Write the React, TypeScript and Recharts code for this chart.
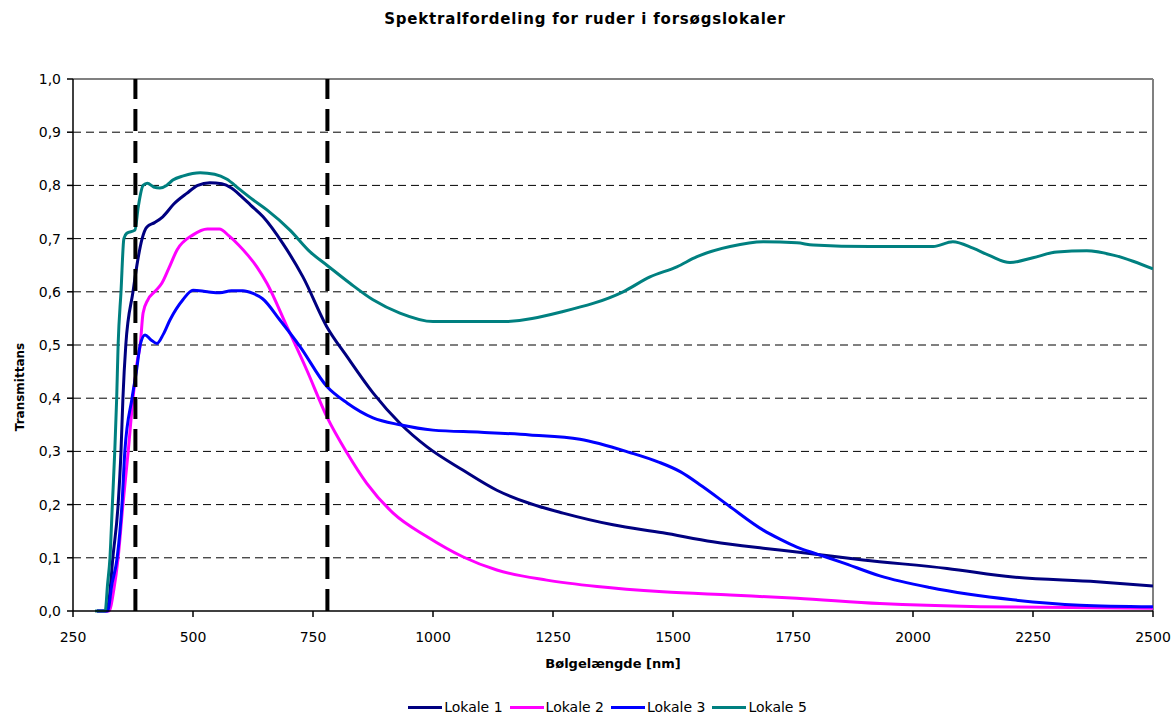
import { LineChart, Line, XAxis, YAxis, CartesianGrid, ReferenceLine, Legend, Label } from 'recharts'

const xTicks = [250, 500, 750, 1000, 1250, 1500, 1750, 2000, 2250, 2500]
const yTicks = [0, 0.1, 0.2, 0.3, 0.4, 0.5, 0.6, 0.7, 0.8, 0.9, 1.0]
const markerLines = [380, 780]

// [wavelength nm, transmittans]
const lokale1: [number, number][] = [
  [300, 0], [320, 0], [325, 0.02], [333, 0.1], [344, 0.2], [350, 0.3], [354, 0.4], [360, 0.5],
  [375, 0.6], [385, 0.66], [394, 0.7], [404, 0.722], [420, 0.73], [437, 0.741], [460, 0.765],
  [487, 0.785], [510, 0.8], [535, 0.805], [560, 0.803], [580, 0.795], [600, 0.78], [620, 0.763],
  [646, 0.741], [687, 0.691], [729, 0.628], [779, 0.534], [821, 0.478], [875, 0.41], [931, 0.353],
  [987, 0.309], [1062, 0.265], [1133, 0.227], [1202, 0.202], [1271, 0.184], [1375, 0.162],
  [1479, 0.147], [1583, 0.13], [1688, 0.118], [1758, 0.111], [1896, 0.096], [2071, 0.08],
  [2208, 0.064], [2383, 0.055], [2500, 0.047],
]

const lokale2: [number, number][] = [
  [300, 0], [325, 0], [335, 0.04], [344, 0.1], [354, 0.2], [365, 0.3], [375, 0.4], [384, 0.47],
  [390, 0.5], [396, 0.56], [406, 0.585], [420, 0.6], [435, 0.616], [450, 0.645], [467, 0.679],
  [500, 0.707], [530, 0.718], [555, 0.718], [575, 0.705], [595, 0.688], [615, 0.668], [633, 0.647],
  [654, 0.616], [696, 0.534], [737, 0.453], [779, 0.365], [821, 0.297], [862, 0.24], [917, 0.184],
  [987, 0.14], [1062, 0.102], [1133, 0.077], [1237, 0.058], [1342, 0.046], [1479, 0.036],
  [1619, 0.03], [1758, 0.024], [1931, 0.014], [2140, 0.008], [2500, 0.005],
]

const lokale3: [number, number][] = [
  [300, 0], [322, 0], [331, 0.05], [342, 0.1], [352, 0.2], [358, 0.3], [373, 0.4], [382, 0.45],
  [390, 0.5], [400, 0.519], [412, 0.51], [425, 0.503], [438, 0.52], [452, 0.547], [479, 0.585],
  [500, 0.603], [530, 0.6], [556, 0.598], [580, 0.602], [604, 0.602], [625, 0.597], [645, 0.587],
  [681, 0.547], [723, 0.497], [779, 0.422], [821, 0.391], [875, 0.363], [931, 0.35], [1000, 0.34],
  [1100, 0.336], [1202, 0.331], [1306, 0.323], [1410, 0.298], [1470, 0.28], [1515, 0.262],
  [1560, 0.235], [1619, 0.196], [1688, 0.152], [1723, 0.135], [1758, 0.12], [1800, 0.107],
  [1850, 0.092], [1931, 0.066], [2035, 0.044], [2208, 0.021], [2348, 0.011], [2500, 0.008],
]

const lokale5: [number, number][] = [
  [296, 0], [317, 0], [322, 0.05], [327, 0.1], [332, 0.2], [337, 0.3], [341, 0.4], [344, 0.5],
  [350, 0.6], [356, 0.7], [362, 0.71], [379, 0.716], [386, 0.76], [396, 0.8], [405, 0.804],
  [418, 0.797], [431, 0.795], [445, 0.8], [458, 0.81], [480, 0.818], [515, 0.824], [545, 0.821],
  [570, 0.812], [598, 0.792], [625, 0.773], [654, 0.754], [702, 0.716], [744, 0.675], [779, 0.65],
  [827, 0.616], [875, 0.585], [931, 0.56], [1000, 0.544], [1146, 0.544], [1271, 0.563],
  [1396, 0.6], [1452, 0.628], [1508, 0.647], [1550, 0.666], [1619, 0.685], [1688, 0.694],
  [1758, 0.692], [1792, 0.688], [1910, 0.685], [2042, 0.685], [2083, 0.694], [2125, 0.682],
  [2160, 0.668], [2202, 0.655], [2250, 0.664], [2300, 0.675], [2362, 0.677], [2417, 0.669],
  [2460, 0.657], [2500, 0.643],
]

const series = [
  { name: 'Lokale 1', color: '#000080', points: lokale1 },
  { name: 'Lokale 2', color: '#ff00ff', points: lokale2 },
  { name: 'Lokale 3', color: '#0000ff', points: lokale3 },
  { name: 'Lokale 5', color: '#008080', points: lokale5 },
]

const FONT = '"DejaVu Sans", "Liberation Sans", sans-serif'

const fmt = (v: number) => v.toFixed(1).replace('.', ',')

function renderLegend() {
  return (
    <div style={{ display: 'flex', justifyContent: 'center', paddingLeft: 46, fontFamily: FONT, fontSize: 14, color: '#000' }}>
      {series.map((s) => (
        <div key={s.name} style={{ display: 'flex', alignItems: 'center', marginRight: 7 }}>
          <span style={{ display: 'inline-block', width: 34, height: 3, background: s.color, marginRight: 2 }} />
          <span>{s.name}</span>
        </div>
      ))}
    </div>
  )
}

export default function App() {
  return (
    <div style={{ position: 'absolute', left: 0, top: 0, width: 1176, height: 716, background: '#fff' }}>
      <div
        style={{
          position: 'absolute', top: 10, left: 0, width: 1170, textAlign: 'center',
          fontFamily: FONT, fontWeight: 'bold', fontSize: 15, letterSpacing: 0.8, color: '#000',
        }}
      >
        Spektralfordeling for ruder i forsøgslokaler
      </div>
      <LineChart width={1176} height={716} margin={{ top: 79, right: 23, bottom: 0, left: 0 }}>
        <CartesianGrid
          vertical={false}
          horizontalValues={yTicks.slice(1, -1)}
          stroke="#000"
          strokeDasharray="8 5"
        />
        <XAxis
          type="number"
          dataKey="nm"
          domain={[250, 2500]}
          ticks={xTicks}
          allowDataOverflow
          height={105}
          tickSize={6}
          tickMargin={15}
          stroke="#000"
          strokeWidth={1.5}
          tick={{ fontSize: 14, fill: '#000', fontFamily: FONT }}
        >
          <Label
            content={({ viewBox }: any) => (
              <text
                x={viewBox.x + viewBox.width / 2}
                y={viewBox.y + 57}
                textAnchor="middle"
                fontFamily={FONT}
                fontWeight="bold"
                fontSize={13}
                fill="#000"
              >
                Bølgelængde [nm]
              </text>
            )}
          />
        </XAxis>
        <YAxis
          type="number"
          domain={[0, 1]}
          ticks={yTicks}
          width={73}
          tickSize={6}
          tickMargin={6}
          tickFormatter={fmt}
          stroke="#000"
          strokeWidth={1.5}
          tick={{ fontSize: 14, fill: '#000', fontFamily: FONT }}
        >
          <Label
            content={({ viewBox }: any) => {
              const cx = viewBox.x + 20
              const cy = viewBox.y + 308
              return (
                <text
                  x={cx}
                  y={cy}
                  transform={`rotate(-90, ${cx}, ${cy})`}
                  textAnchor="middle"
                  dominantBaseline="central"
                  fontFamily={FONT}
                  fontWeight="bold"
                  fontSize={12}
                  fill="#000"
                >
                  Transmittans
                </text>
              )
            }}
          />
        </YAxis>
        <ReferenceLine y={1} stroke="#808080" strokeWidth={2} />
        <ReferenceLine x={2500} stroke="#808080" strokeWidth={2} />
        {series.map((s) => (
          <Line
            key={s.name}
            name={s.name}
            data={s.points.map(([nm, t]) => ({ nm, t }))}
            dataKey="t"
            type="monotone"
            stroke={s.color}
            strokeWidth={3}
            dot={false}
            activeDot={false}
            isAnimationActive={false}
          />
        ))}
        {markerLines.map((x) => (
          <ReferenceLine key={x} x={x} stroke="#000" strokeWidth={4} strokeDasharray="22 10" />
        ))}
        <Legend
          layout="horizontal"
          verticalAlign="middle"
          align="center"
          wrapperStyle={{ top: 699, left: 0, width: 1176 }}
          content={renderLegend}
        />
      </LineChart>
    </div>
  )
}
